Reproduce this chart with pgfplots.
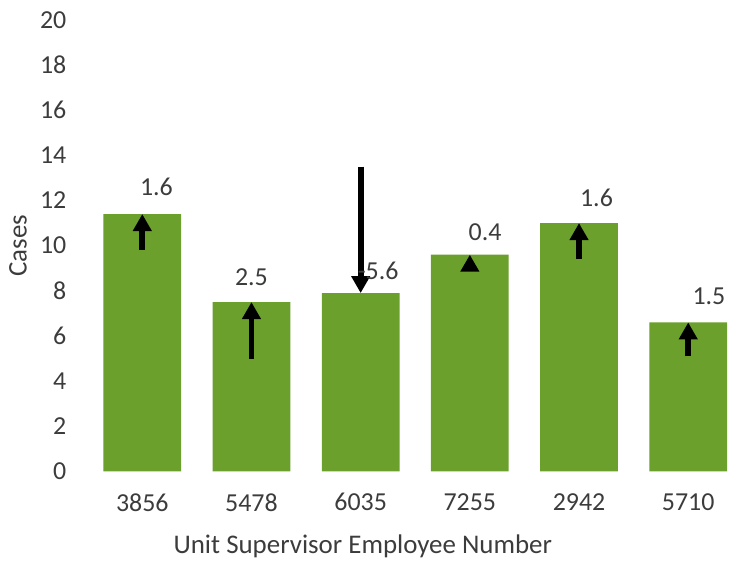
\documentclass[border=0pt]{standalone}
\usepackage{fontspec}
\setmainfont{Carlito}
\usepackage{pgfplots}
\pgfplotsset{compat=1.18}
\usetikzlibrary{arrows.meta}
\definecolor{bargreen}{RGB}{108,160,45}
\definecolor{txt}{RGB}{60,60,60}

% bars: cases per supervisor; dv = change shown by the arrow
\pgfplotstableread{
x  y     y0    dv
0  11.40 9.80  1.6
1  7.50  5.00  2.5
2  7.90  13.50 -5.6
3  9.60  9.20  0.4
4  11.00 9.40  1.6
5  6.60  5.10  1.5
}\bars
\pgfplotstableread{
x     y     lab
0.13  12.6  1.6
1.00  8.6   2.5
2.16  8.9   -5.6
3.14  10.6  0.4
4.16  12.1  1.6
5.19  7.75  1.5
}\labels

\begin{document}
\begin{tikzpicture}
\begin{axis}[
    name=ax,
    scale only axis,
    width=321pt, height=226.5pt,
    xmin=-0.5, xmax=5.36,
    ymin=0, ymax=20,
    ytick={0,2,...,20},
    xtick={0,...,5},
    xticklabels={3856,5478,6035,7255,2942,5710},
    axis line style={draw=none},
    tick style={draw=none},
    major tick length=0pt,
    font=\fontsize{13pt}{15pt}\selectfont,
    /pgf/number format/assume math mode=true,
    yticklabel style={anchor=east, inner sep=0pt, xshift=-10.5pt, text=txt},
    xticklabel style={anchor=center, inner sep=0pt, text=txt},
    xticklabel shift=15.5pt,
    ylabel={Cases},
    xlabel={Unit Supervisor Employee Number},
    ylabel style={at={(axis description cs:-0.109,0.5)}, anchor=center, text=txt,
      font=\fontsize{13.5pt}{15pt}\selectfont},
    xlabel style={at={(axis description cs:0.43,-0.166)}, anchor=center, text=txt,
      font=\fontsize{13.5pt}{15pt}\selectfont},
    clip=false,
]
\addplot[ybar, bar width=39pt, fill=bargreen, draw=none] table[x=x, y=y] {\bars};
\addplot[black, line width=2.9pt, -{Triangle[length=8.5pt, width=9pt]},
    quiver={u=0, v=\thisrow{dv}}] table[x=x, y=y0] {\bars};
\addplot[only marks, mark=none, nodes near coords, point meta=explicit symbolic,
    every node near coord/.append style={anchor=center, text=txt,
      font=\fontsize{13pt}{15pt}\selectfont}]
    table[x=x, y=y, meta=lab] {\labels};
\end{axis}
\path[use as bounding box] ([xshift=-44pt, yshift=-44pt]ax.south west)
    rectangle ([xshift=1pt, yshift=10pt]ax.north east);
\end{tikzpicture}
\end{document}
